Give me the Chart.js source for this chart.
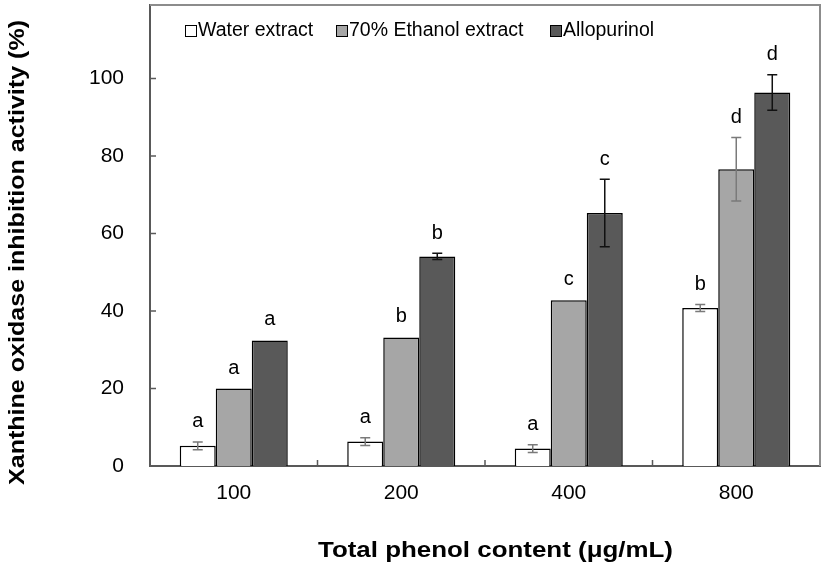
<!DOCTYPE html>
<html>
<head>
<meta charset="utf-8">
<script src="https://cdn.jsdelivr.net/npm/chart.js@4.4.1/dist/chart.umd.min.js"></script>
<style>
html,body{margin:0;padding:0;background:#fff;}
#wrap{width:827px;height:571px;}
</style>
</head>
<body>
<div id="wrap"><canvas id="c" width="827" height="571"></canvas></div>
<script>
const categories = ["100", "200", "400", "800"];
const seriesNames = ["Water extract", "70% Ethanol extract", "Allopurinol"];
const waterValues = [5.2, 6.3, 4.5, 40.8];
const waterErrors = [1.0, 1.0, 1.0, 0.9];
const ethanolValues = [20.0, 33.2, 42.8, 76.6];
const ethanolErrors = [0.1, 0.2, 0.1, 8.2];
const alloValues = [32.4, 54.1, 65.3, 96.4];
const alloErrors = [0.2, 0.8, 8.7, 4.6];
const waterLetters = ["a", "a", "a", "b"];
const ethanolLetters = ["a", "b", "c", "d"];
const alloLetters = ["a", "b", "c", "d"];
const yTicks = [0, 20, 40, 60, 80, 100];
const xTitle = "Total phenol content (μg/mL)";
const yTitle = "Xanthine oxidase inhibition activity (%)";

const FONT = "'Liberation Sans', Arial, sans-serif";
const errs = [waterErrors, ethanolErrors, alloErrors];
const letters = [waterLetters, ethanolLetters, alloLetters];
const errColors = ["#7a7a7a", "#7a7a7a", "#111"];
const fills = ["#ffffff", "#a6a6a6", "#595959"];

function stretchedText(ctx, text, cx, cy, targetW, rot) {
  ctx.save();
  ctx.translate(cx, cy);
  if (rot) ctx.rotate(rot);
  const w = ctx.measureText(text).width;
  ctx.scale(targetW / w, 1);
  ctx.textAlign = "center";
  ctx.textBaseline = "middle";
  ctx.fillText(text, 0, 0);
  ctx.restore();
}

const decor = {
  id: "decor",
  afterDatasetsDraw(chart) {
    const ctx = chart.ctx;
    const ca = chart.chartArea;
    const ys = chart.scales.y;
    ctx.save();
    // frame top/right
    ctx.strokeStyle = "#8c8c8c";
    ctx.lineWidth = 2;
    ctx.beginPath();
    ctx.moveTo(ca.left, ca.top); ctx.lineTo(ca.right, ca.top); ctx.lineTo(ca.right, ca.bottom);
    ctx.stroke();
    // inward ticks
    ctx.strokeStyle = "#595959";
    ctx.lineWidth = 1.5;
    ctx.beginPath();
    yTicks.forEach(v => { const y = ys.getPixelForValue(v); ctx.moveTo(ca.left, y); ctx.lineTo(ca.left + 6, y); });
    const step = (ca.right - ca.left) / categories.length;
    for (let i = 1; i < categories.length; i++) {
      const x = ca.left + step * i; ctx.moveTo(x, ca.bottom); ctx.lineTo(x, ca.bottom - 6);
    }
    ctx.stroke();
    // error bars and letters
    chart.data.datasets.forEach((ds, di) => {
      const meta = chart.getDatasetMeta(di);
      meta.data.forEach((bar, i) => {
        const v = ds.data[i], e = errs[di][i];
        const x = bar.x;
        const yt = ys.getPixelForValue(v + e), yb = ys.getPixelForValue(v - e);
        ctx.strokeStyle = errColors[di];
        ctx.lineWidth = 1.5;
        if (e >= 0.5) {
          ctx.beginPath();
          ctx.moveTo(x, yt); ctx.lineTo(x, yb);
          ctx.moveTo(x - 5, yt); ctx.lineTo(x + 5, yt);
          ctx.moveTo(x - 5, yb); ctx.lineTo(x + 5, yb);
          ctx.stroke();
        }
        ctx.fillStyle = "#000";
        ctx.font = "20px " + FONT;
        ctx.textAlign = "center";
        ctx.textBaseline = "middle";
        ctx.fillText(letters[di][i], x, yt - 20);
      });
    });
    // legend
    const lx = [185, 336, 550];
    ctx.font = "19.5px " + FONT;
    ctx.textAlign = "left";
    ctx.textBaseline = "middle";
    seriesNames.forEach((n, i) => {
      ctx.fillStyle = fills[i];
      ctx.fillRect(lx[i], 25, 11, 11);
      ctx.strokeStyle = "#000";
      ctx.lineWidth = 1;
      ctx.strokeRect(lx[i] + 0.5, 25.5, 11, 11);
      ctx.fillStyle = "#000";
      ctx.fillText(n, lx[i] + 13, 31);
    });
    // axis titles
    ctx.fillStyle = "#000";
    ctx.font = "bold 22px " + FONT;
    stretchedText(ctx, xTitle, 495.5, 551, 355, 0);
    stretchedText(ctx, yTitle, 18, 252.5, 465, -Math.PI / 2);
    ctx.restore();
  }
};

new Chart(document.getElementById("c"), {
  type: "bar",
  data: {
    labels: categories,
    datasets: [
      { label: seriesNames[0], data: waterValues, backgroundColor: fills[0], borderColor: "#000", borderWidth: 1.5, borderSkipped: "bottom" },
      { label: seriesNames[1], data: ethanolValues, backgroundColor: fills[1], borderColor: "#000", borderWidth: 1.5, borderSkipped: "bottom" },
      { label: seriesNames[2], data: alloValues, backgroundColor: fills[2], borderColor: "#000", borderWidth: 1.5, borderSkipped: "bottom" }
    ]
  },
  options: {
    responsive: false,
    animation: false,
    devicePixelRatio: 1,
    layout: { padding: { top: 5, right: 7, left: 0, bottom: 0 } },
    datasets: { bar: { categoryPercentage: 0.645, barPercentage: 1.0 } },
    plugins: { legend: { display: false }, tooltip: { enabled: false } },
    scales: {
      x: {
        grid: { display: false, drawTicks: false },
        border: { color: "#595959", width: 2 },
        ticks: { color: "#000", font: { family: FONT, size: 21 }, padding: 15 },
        afterFit(s) { s.height = 105; s.paddingLeft = 0; s.paddingRight = 0; }
      },
      y: {
        min: 0, max: 119,
        grid: { display: false, drawTicks: false },
        border: { color: "#595959", width: 2 },
        ticks: { stepSize: 20, color: "#000", font: { family: FONT, size: 21 }, padding: 26 },
        afterBuildTicks(s) { s.ticks = yTicks.map(v => ({ value: v })); },
        afterFit(s) { s.width = 150; s.paddingTop = 0; s.paddingBottom = 0; }
      }
    }
  },
  plugins: [decor]
});
</script>
</body>
</html>
